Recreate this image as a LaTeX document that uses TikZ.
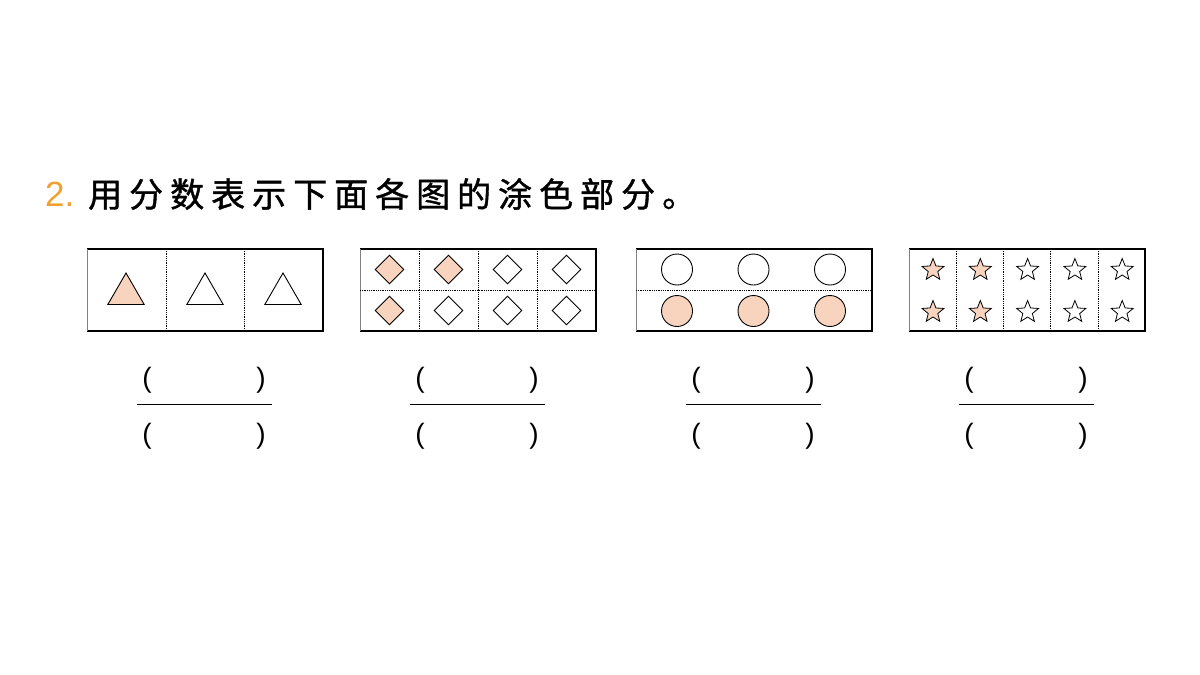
\documentclass[tikz,border=0pt]{standalone}
\usepackage{fontspec}
\setmainfont{Liberation Sans}
\newfontfamily\cjk[FakeBold=1.2]{Noto Sans CJK SC}
\usetikzlibrary{shapes.geometric}
\definecolor{peach}{HTML}{F8D3BE}
\definecolor{org}{HTML}{F0A030}
\newcommand{\gp}{\hspace{7pt}}
\tikzset{
 frame/.style={line width=1.6pt},
 lside/.style={line width=0.8pt,draw=gray},
 div/.style={densely dotted,line width=0.8pt},
 tri/.style={regular polygon,regular polygon sides=3,draw,line width=0.9pt,minimum size=42pt,inner sep=0pt},
 dia/.style={diamond,draw,line width=0.9pt,minimum size=29pt,inner sep=0pt},
 circ/.style={circle,draw,line width=0.9pt,minimum size=31pt,inner sep=0pt},
 st/.style={star,star points=5,star point ratio=2.3,draw,line width=0.8pt,minimum size=23pt,inner sep=0pt},
 par/.style={font=\fontsize{28}{28}\selectfont},
}
\begin{document}
\begin{tikzpicture}[x=1pt,y=-1pt]
\useasboundingbox (0,0) rectangle (1200,675);
\node[anchor=west,inner sep=0,text=org,font=\fontsize{35}{35}\selectfont] (num) at (45,194) {2.};
\node[anchor=west,inner sep=0,font=\cjk\fontsize{34}{34}\selectfont] (title) at (88,194) {用\gp 分\gp 数\gp 表\gp 示\gp 下\gp 面\gp 各\gp 图\gp 的\gp 涂\gp 色\gp 部\gp 分\gp 。};
\foreach \x/\n in {87/a,360/b,636/c,909/d}{
 \draw[frame] (\x,249) -- (\x+236,249) -- (\x+236,331) -- (\x,331);
 \draw[lside] (\x,249) -- (\x,331);
 \node[par] (\n top1) at (\x+60,380) {(};
 \node[par] (\n top2) at (\x+174,380) {)};
 \node[par] (\n bot1) at (\x+60,436) {(};
 \node[par] (\n bot2) at (\x+174,436) {)};
 \coordinate (\n l) at (\x+50,404);
 \coordinate (\n r) at (\x+185,404);
 \draw[line width=1pt] (\n l) -- (\n r);
}
\draw[div] (166,249) -- (166,331) (244,249) -- (244,331);
\node[tri,fill=peach] (t1) at (126,294) {};
\node[tri] (t2) at (205,294) {};
\node[tri] (t3) at (283,294) {};
\draw[div] (419,249) -- (419,331) (478,249) -- (478,331) (537,249) -- (537,331) (360,290) -- (596,290);
\foreach \i/\f in {0/peach,1/peach,2/white,3/white}{
 \node[dia,fill=\f] (bu\i) at (389.5+\i*59,269.5) {};}
\foreach \i/\f in {0/peach,1/white,2/white,3/white}{
 \node[dia,fill=\f] (bd\i) at (389.5+\i*59,310.5) {};}
\draw[div] (636,290) -- (872,290);
\foreach \i in {0,1,2}{
 \node[circ] (cu\i) at (677+\i*76.5,269.5) {};
 \node[circ,fill=peach] (cd\i) at (677+\i*76.5,311) {};}
\draw[div] (956,249) -- (956,331) (1003,249) -- (1003,331) (1050,249) -- (1050,331) (1098,249) -- (1098,331);
\foreach \i/\f in {0/peach,1/peach,2/white,3/white,4/white}{
 \node[st,fill=\f] (su\i) at (933+\i*47.3,270) {};
 \node[st,fill=\f] (sd\i) at (933+\i*47.3,312) {};}
\end{tikzpicture}
\end{document}
